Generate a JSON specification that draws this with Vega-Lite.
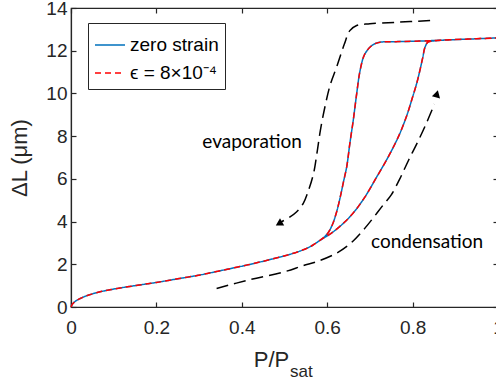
{
  "$schema": "https://vega.github.io/schema/vega-lite/v6.json",
  "autosize": "none",
  "width": 427,
  "height": 299,
  "padding": {"left": 71, "top": 8, "right": 0, "bottom": 76},
  "background": "white",
  "config": {
    "view": {"stroke": "#262626", "strokeWidth": 1.2},
    "axis": {"grid": false, "domainColor": "#262626", "tickColor": "#262626", "labelColor": "#262626", "labelFont": "Liberation Sans", "labelFontSize": 19, "titleFont": "Liberation Sans", "titleColor": "#262626", "titleFontWeight": "normal", "domainWidth": 1.2, "tickWidth": 1.2}
  },
  "datasets": {
    "curve": [
      {"o": 1, "x": 0.0, "y": 0.0},
      {"o": 2, "x": 0.003, "y": 0.12},
      {"o": 3, "x": 0.008, "y": 0.23},
      {"o": 4, "x": 0.015, "y": 0.33},
      {"o": 5, "x": 0.025, "y": 0.43},
      {"o": 6, "x": 0.04, "y": 0.55},
      {"o": 7, "x": 0.068, "y": 0.71},
      {"o": 8, "x": 0.1, "y": 0.84},
      {"o": 9, "x": 0.15, "y": 1.0},
      {"o": 10, "x": 0.2, "y": 1.15},
      {"o": 11, "x": 0.25, "y": 1.32},
      {"o": 12, "x": 0.302, "y": 1.5},
      {"o": 13, "x": 0.35, "y": 1.7},
      {"o": 14, "x": 0.411, "y": 1.96},
      {"o": 15, "x": 0.466, "y": 2.22},
      {"o": 16, "x": 0.51, "y": 2.45},
      {"o": 17, "x": 0.544, "y": 2.68},
      {"o": 18, "x": 0.565, "y": 2.88},
      {"o": 19, "x": 0.583, "y": 3.12},
      {"o": 20, "x": 0.614, "y": 3.52},
      {"o": 21, "x": 0.653, "y": 4.22},
      {"o": 22, "x": 0.685, "y": 5.05},
      {"o": 23, "x": 0.716, "y": 6.09},
      {"o": 24, "x": 0.747, "y": 7.18},
      {"o": 25, "x": 0.77, "y": 8.12},
      {"o": 26, "x": 0.787, "y": 9.0},
      {"o": 27, "x": 0.8, "y": 9.83},
      {"o": 28, "x": 0.81, "y": 10.5},
      {"o": 29, "x": 0.817, "y": 11.07},
      {"o": 30, "x": 0.824, "y": 11.7},
      {"o": 31, "x": 0.829, "y": 12.16},
      {"o": 32, "x": 0.836, "y": 12.4},
      {"o": 33, "x": 0.85, "y": 12.46},
      {"o": 34, "x": 0.9, "y": 12.52},
      {"o": 35, "x": 0.95, "y": 12.56},
      {"o": 36, "x": 1.0, "y": 12.6},
      {"o": 37, "x": 0.95, "y": 12.56},
      {"o": 38, "x": 0.9, "y": 12.52},
      {"o": 39, "x": 0.8, "y": 12.44},
      {"o": 40, "x": 0.75, "y": 12.42},
      {"o": 41, "x": 0.724, "y": 12.4},
      {"o": 42, "x": 0.712, "y": 12.33},
      {"o": 43, "x": 0.7, "y": 12.16},
      {"o": 44, "x": 0.687, "y": 11.8},
      {"o": 45, "x": 0.677, "y": 11.07},
      {"o": 46, "x": 0.669, "y": 9.98},
      {"o": 47, "x": 0.661, "y": 8.74},
      {"o": 48, "x": 0.653, "y": 7.65},
      {"o": 49, "x": 0.646, "y": 6.6},
      {"o": 50, "x": 0.638, "y": 5.85},
      {"o": 51, "x": 0.63, "y": 5.1},
      {"o": 52, "x": 0.622, "y": 4.45},
      {"o": 53, "x": 0.613, "y": 3.9},
      {"o": 54, "x": 0.603, "y": 3.5},
      {"o": 55, "x": 0.593, "y": 3.27},
      {"o": 56, "x": 0.583, "y": 3.12}
    ],
    "arrows": [
      {"a": "evap", "o": 1, "x": 0.841, "y": 13.41},
      {"a": "evap", "o": 2, "x": 0.76, "y": 13.33},
      {"a": "evap", "o": 3, "x": 0.7, "y": 13.26},
      {"a": "evap", "o": 4, "x": 0.669, "y": 13.18},
      {"a": "evap", "o": 5, "x": 0.653, "y": 12.94},
      {"a": "evap", "o": 6, "x": 0.64, "y": 12.3},
      {"a": "evap", "o": 7, "x": 0.622, "y": 11.23},
      {"a": "evap", "o": 8, "x": 0.607, "y": 10.4},
      {"a": "evap", "o": 9, "x": 0.595, "y": 9.4},
      {"a": "evap", "o": 10, "x": 0.584, "y": 8.27},
      {"a": "evap", "o": 11, "x": 0.576, "y": 7.2},
      {"a": "evap", "o": 12, "x": 0.568, "y": 6.25},
      {"a": "evap", "o": 13, "x": 0.556, "y": 5.45},
      {"a": "evap", "o": 14, "x": 0.544, "y": 4.85},
      {"a": "evap", "o": 15, "x": 0.528, "y": 4.45},
      {"a": "evap", "o": 16, "x": 0.513, "y": 4.22},
      {"a": "evap", "o": 17, "x": 0.492, "y": 3.98},
      {"a": "cond", "o": 1, "x": 0.341, "y": 0.87},
      {"a": "cond", "o": 2, "x": 0.419, "y": 1.28},
      {"a": "cond", "o": 3, "x": 0.5, "y": 1.65},
      {"a": "cond", "o": 4, "x": 0.544, "y": 1.94},
      {"a": "cond", "o": 5, "x": 0.575, "y": 2.12},
      {"a": "cond", "o": 6, "x": 0.62, "y": 2.5},
      {"a": "cond", "o": 7, "x": 0.653, "y": 2.95},
      {"a": "cond", "o": 8, "x": 0.68, "y": 3.5},
      {"a": "cond", "o": 9, "x": 0.705, "y": 4.1},
      {"a": "cond", "o": 10, "x": 0.73, "y": 4.75},
      {"a": "cond", "o": 11, "x": 0.75, "y": 5.25},
      {"a": "cond", "o": 12, "x": 0.77, "y": 6.0},
      {"a": "cond", "o": 13, "x": 0.79, "y": 6.85},
      {"a": "cond", "o": 14, "x": 0.81, "y": 7.65},
      {"a": "cond", "o": 15, "x": 0.83, "y": 8.5},
      {"a": "cond", "o": 16, "x": 0.851, "y": 9.5}
    ],
    "heads": [
      {"x": 0.487, "y": 3.9, "angle": 240},
      {"x": 0.857, "y": 9.98, "angle": 15}
    ],
    "notes": [
      {"x": 0.424, "y": 7.72, "t": "evaporation"},
      {"x": 0.834, "y": 3.05, "t": "condensation"}
    ]
  },
  "layer": [
    {
      "data": {"name": "curve"},
      "mark": {"type": "line", "strokeWidth": 1.5, "interpolate": "catmull-rom"},
      "encoding": {
        "x": {"field": "x", "type": "quantitative", "scale": {"domain": [0, 1], "nice": false},
          "axis": {"values": [0, 0.2, 0.4, 0.6, 0.8, 1], "format": "~g", "tickSize": -5, "labelPadding": 16, "title": null, "labelFlush": false}},
        "y": {"field": "y", "type": "quantitative", "scale": {"domain": [0, 14], "nice": false},
          "axis": {"values": [0, 2, 4, 6, 8, 10, 12, 14], "tickSize": -5, "labelPadding": 9, "title": "ΔL  (μm)", "titleFontSize": 22, "titlePadding": 14, "labelFlush": false}},
        "order": {"field": "o", "type": "quantitative"},
        "color": {"datum": "zero strain", "type": "nominal",
          "scale": {"domain": ["zero strain", "ϵ = 8×10⁻⁴"], "range": ["#0072BD", "#FF0000"]},
          "legend": {"title": null, "orient": "none", "legendX": 17, "legendY": 15, "symbolType": "stroke", "symbolSize": 900, "symbolStrokeWidth": 1.6, "labelFont": "Liberation Sans", "labelFontSize": 19, "labelColor": "black", "strokeColor": "#262626", "fillColor": "white", "padding": 6, "rowPadding": 2}},
        "strokeDash": {"datum": "zero strain", "type": "nominal",
          "scale": {"domain": ["zero strain", "ϵ = 8×10⁻⁴"], "range": [[1, 0], [6, 4]]},
          "legend": {"title": null, "orient": "none", "legendX": 17, "legendY": 15, "symbolType": "stroke", "symbolSize": 900, "symbolStrokeWidth": 1.6, "labelFont": "Liberation Sans", "labelFontSize": 19, "labelColor": "black", "strokeColor": "#262626", "fillColor": "white", "padding": 6, "rowPadding": 2}}
      }
    },
    {
      "data": {"name": "curve"},
      "mark": {"type": "line", "strokeWidth": 1.5, "interpolate": "catmull-rom"},
      "encoding": {
        "x": {"field": "x", "type": "quantitative", "axis": {"orient": "top", "values": [0, 0.2, 0.4, 0.6, 0.8, 1], "labels": false, "domain": false, "tickSize": -5, "title": null}},
        "y": {"field": "y", "type": "quantitative", "axis": {"orient": "right", "values": [0, 2, 4, 6, 8, 10, 12, 14], "labels": false, "domain": false, "tickSize": -5, "title": null}},
        "order": {"field": "o", "type": "quantitative"},
        "color": {"datum": "ϵ = 8×10⁻⁴", "type": "nominal"},
        "strokeDash": {"datum": "ϵ = 8×10⁻⁴", "type": "nominal"}
      }
    },
    {
      "data": {"name": "arrows"},
      "mark": {"type": "line", "color": "black", "strokeWidth": 1.5, "strokeDash": [12, 6], "interpolate": "catmull-rom"},
      "encoding": {
        "x": {"field": "x", "type": "quantitative", "axis": null},
        "y": {"field": "y", "type": "quantitative", "axis": null},
        "detail": {"field": "a"},
        "order": {"field": "o", "type": "quantitative"}
      }
    },
    {
      "data": {"name": "heads"},
      "mark": {"type": "point", "shape": "triangle-up", "filled": true, "color": "black", "size": 70, "opacity": 1},
      "encoding": {
        "x": {"field": "x", "type": "quantitative", "axis": null},
        "y": {"field": "y", "type": "quantitative", "axis": null},
        "angle": {"field": "angle", "type": "quantitative", "scale": {"domain": [0, 360], "range": [0, 360]}}
      }
    },
    {
      "data": {"name": "notes"},
      "mark": {"type": "text", "font": "Lato", "fontSize": 19, "color": "black", "align": "center", "baseline": "middle"},
      "encoding": {
        "x": {"field": "x", "type": "quantitative", "axis": null},
        "y": {"field": "y", "type": "quantitative", "axis": null},
        "text": {"field": "t"}
      }
    },
    {
      "data": {"values": [{"x": 0.511, "y": -2.79, "t": "P/P"}]},
      "mark": {"type": "text", "font": "Liberation Sans", "fontSize": 22, "color": "#262626", "align": "right", "baseline": "alphabetic"},
      "encoding": {
        "x": {"field": "x", "type": "quantitative", "axis": null},
        "y": {"field": "y", "type": "quantitative", "axis": null},
        "text": {"field": "t"}
      }
    },
    {
      "data": {"values": [{"x": 0.513, "y": -3.29, "t": "sat"}]},
      "mark": {"type": "text", "font": "Liberation Sans", "fontSize": 17, "color": "#262626", "align": "left", "baseline": "alphabetic"},
      "encoding": {
        "x": {"field": "x", "type": "quantitative", "axis": null},
        "y": {"field": "y", "type": "quantitative", "axis": null},
        "text": {"field": "t"}
      }
    }
  ],
  "resolve": {"axis": {"x": "independent", "y": "independent"}}
}
